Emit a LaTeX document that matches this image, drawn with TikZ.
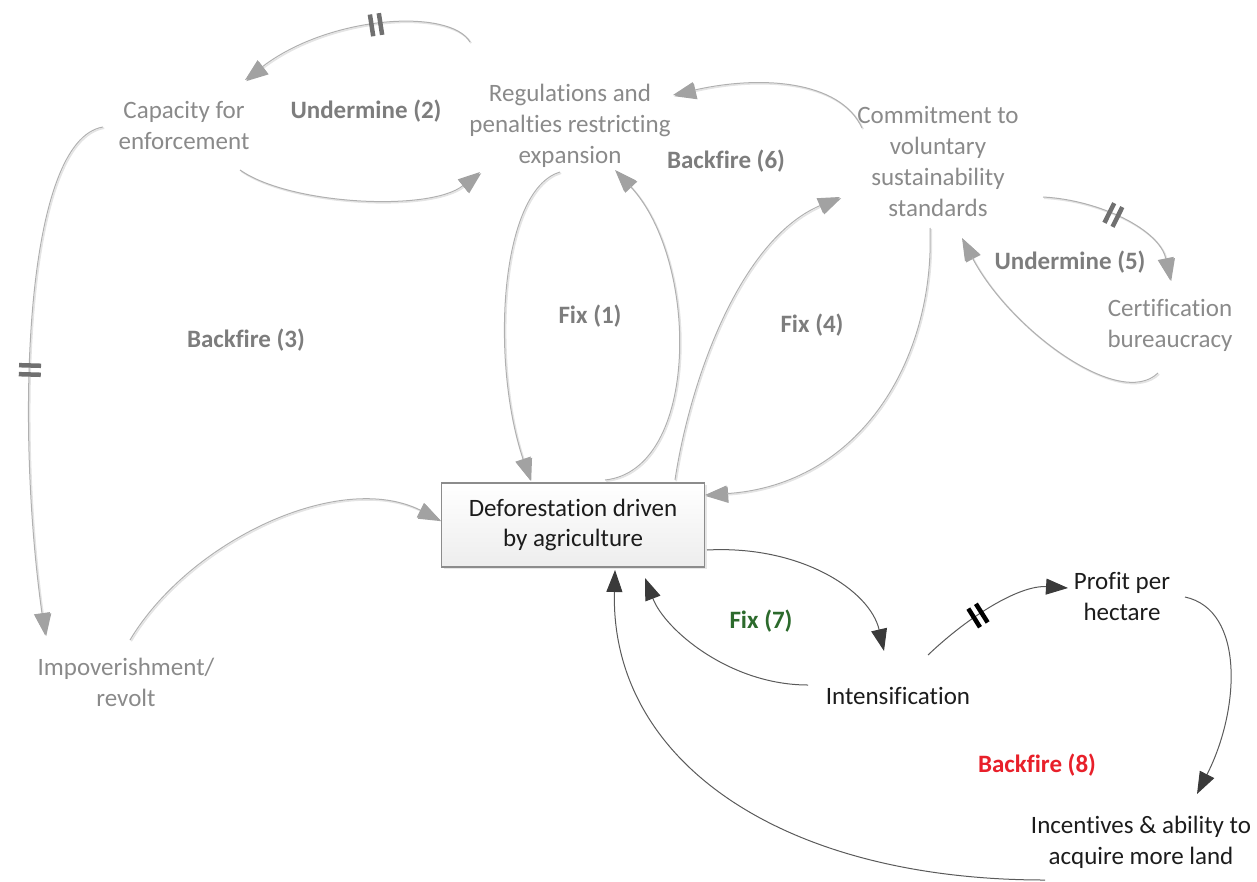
\documentclass[tikz,border=0pt]{standalone}
\usepackage{fontspec}
\setmainfont{Carlito}[Ligatures=NoCommon]
\usetikzlibrary{arrows.meta,decorations.markings,shadows}

\definecolor{txtgray}{HTML}{8A8A8A}
\definecolor{lblgray}{HTML}{7D7D7D}
\definecolor{linegray}{HTML}{B0B0B0}
\definecolor{shadegray}{HTML}{E4E4E4}
\definecolor{headgray}{HTML}{A2A2A2}
\definecolor{markgray}{HTML}{707070}
\definecolor{darkline}{HTML}{5A5A5A}
\definecolor{darkhead}{HTML}{3A3A3A}
\definecolor{inkdark}{HTML}{1C1C1C}
\definecolor{boxedge}{HTML}{8C8C8C}
\definecolor{fixgreen}{HTML}{2C6A2C}
\definecolor{firered}{HTML}{E8202A}

\tikzset{
  var/.style={align=center, font=\fontsize{25}{31}\selectfont, text=txtgray, inner sep=0pt},
  darkvar/.style={var, text=inkdark},
  looplabel/.style={font=\fontsize{25}{30}\selectfont\bfseries, text=lblgray, inner sep=0pt},
  glink/.style={draw=linegray, line width=1pt,
    preaction={draw=shadegray, line width=1.6pt, transform canvas={shift={(1.2pt,-1.2pt)}}},
    -{Triangle[length=22pt,width=16pt,color=headgray]}},
  dlink/.style={draw=darkline, line width=1pt,
    -{Triangle[length=22pt,width=16pt,color=darkhead]}},
  delaymark/.style 2 args={postaction={decorate,decoration={markings,
    mark=at position #1 with {\draw[-, line width=4.5pt, draw=#2]
      (-4.5pt,-11pt)--(-4.5pt,11pt) (4.5pt,-11pt)--(4.5pt,11pt);}}}},
  stockbox/.style={draw=boxedge, line width=1.3pt, top color=white, bottom color=black!7,
    minimum width=263pt, minimum height=84pt, align=center,
    font=\fontsize{25}{30}\selectfont, text=inkdark,
    drop shadow={opacity=0.2, shadow xshift=2pt, shadow yshift=-2pt}}
}

\begin{document}
\begin{tikzpicture}[x=1pt,y=-1pt]
\useasboundingbox (0,0) rectangle (1257,881);

% variables
\node[var] (cap) at (184,125) {Capacity for\\enforcement};
\node[var] (reg) at (570,126) {Regulations and\\penalties restricting\\expansion};
\node[var] (com) at (938,161) {Commitment to\\voluntary\\sustainability\\standards};
\node[var] (cert) at (1170,325) {Certification\\bureaucracy};
\node[var] (imp) at (126,682) {Impoverishment/\\revolt};
\node[stockbox] (def) at (573,525) {Deforestation driven\\by agriculture};
\node[darkvar] (int) at (898,696) {Intensification};
\node[darkvar] (pro) at (1122,596) {Profit per\\hectare};
\node[darkvar] (inc) at (1141,842) {Incentives \& ability to\\acquire more land};

% loop labels
\node[looplabel] (l2) at (366,111) {Undermine (2)};
\node[looplabel] (l6) at (726,161) {Backfire (6)};
\node[looplabel] (l5) at (1070,262) {Undermine (5)};
\node[looplabel] (l1) at (590,316) {Fix (1)};
\node[looplabel] (l4) at (812,325) {Fix (4)};
\node[looplabel] (l3) at (246,340) {Backfire (3)};
\node[looplabel, text=fixgreen] (l7) at (761,621) {Fix (7)};
\node[looplabel, text=firered] (l8) at (1037,765) {Backfire (8)};

% links of the policy loops
\draw[glink, delaymark={0.41}{markgray}] ([shift={(-100,-84)}]reg.center)
  .. controls (450,8) and (330,15) .. ([shift={(61,-45)}]cap.center);
\draw[glink] ([shift={(56,45)}]cap.center)
  .. controls (290,205) and (430,212) .. ([shift={(-90,46)}]reg.center);
\draw[glink, delaymark={0.5}{markgray}] ([shift={(-81,2)}]cap.center)
  .. controls (25,140) and (15,420) .. ([shift={(-81,-47)}]imp.center);
\draw[glink] ([shift={(4,-42)}]imp.center)
  .. controls (190,540) and (340,470) .. ([shift={(-133,-5)}]def.center);
\draw[glink] ([shift={(-10,46)}]reg.center)
  .. controls (500,190) and (490,360) .. ([shift={(-43,-45)}]def.center);
\draw[glink] ([shift={(32,-45)}]def.center)
  .. controls (700,470) and (700,260) .. ([shift={(45,44)}]reg.center);
\draw[glink] ([shift={(102,-45)}]def.center)
  .. controls (690,380) and (740,240) .. ([shift={(-98,36)}]com.center);
\draw[glink] ([shift={(-8,67)}]com.center)
  .. controls (935,360) and (860,485) .. ([shift={(132,-30)}]def.center);
\draw[glink] ([shift={(-76,-33)}]com.center)
  .. controls (840,80) and (760,75) .. ([shift={(103,-31)}]reg.center);
\draw[glink, delaymark={0.45}{markgray}] ([shift={(105,36)}]com.center)
  .. controls (1100,200) and (1160,230) .. ([shift={(0,-45)}]cert.center);
\draw[glink] ([shift={(-12,48)}]cert.center)
  .. controls (1120,410) and (1010,330) .. ([shift={(24,77)}]com.center);

% links of the intensification loops
\draw[dlink] ([shift={(134,25)}]def.center)
  .. controls (800,545) and (870,590) .. ([shift={(-14,-45)}]int.center);
\draw[dlink] ([shift={(-90,-11)}]int.center)
  .. controls (730,685) and (665,630) .. ([shift={(72,53)}]def.center);
\draw[dlink, delaymark={0.4}{black}] ([shift={(30,-41)}]int.center)
  .. controls (970,615) and (1020,585) .. ([shift={(-54,-8)}]pro.center);
\draw[dlink] ([shift={(63,1)}]pro.center)
  .. controls (1245,610) and (1240,710) .. ([shift={(56,-48)}]inc.center);
\draw[dlink] ([shift={(-96,38)}]inc.center)
  .. controls (780,880) and (610,760) .. ([shift={(42,45)}]def.center);
\end{tikzpicture}
\end{document}
